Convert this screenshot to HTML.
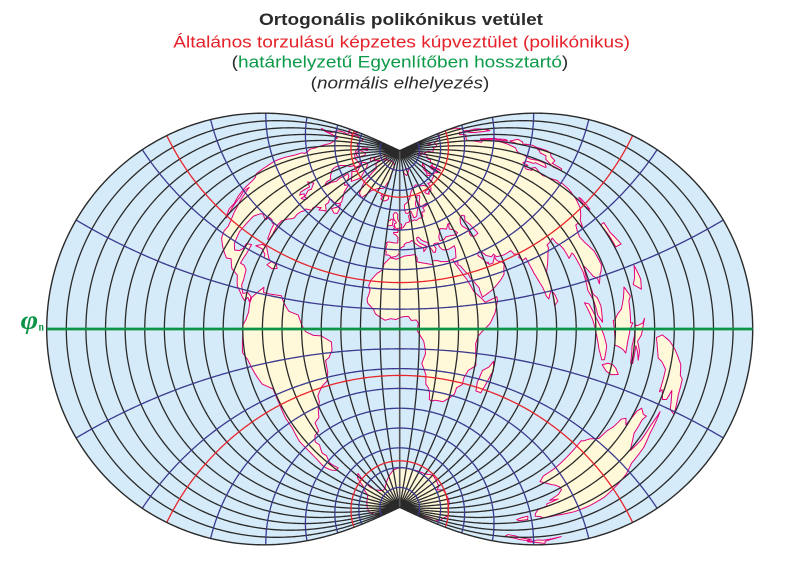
<!DOCTYPE html>
<html>
<head>
<meta charset="utf-8">
<style>
html,body{margin:0;padding:0;background:#fff;width:800px;height:566px;overflow:hidden}
svg{display:block}
</style>
</head>
<body>
<svg id="s" width="800" height="566" viewBox="0 0 800 566" xmlns="http://www.w3.org/2000/svg">
<rect x="0" y="0" width="800" height="566" fill="#ffffff"/>
<g font-family="'Liberation Sans', Arial, sans-serif" font-size="17">
<text x="259" y="25" font-weight="bold" fill="#2b2b2b" textLength="284" lengthAdjust="spacingAndGlyphs">Ortogonális polikónikus vetület</text>
<text x="173.3" y="47.7" fill="#e62129" textLength="456.7" lengthAdjust="spacingAndGlyphs">Általános torzulású képzetes kúpveztület (polikónikus)</text>
<text x="231.7" y="67.3" fill="#2b2b2b" textLength="336.6" lengthAdjust="spacingAndGlyphs">(<tspan fill="#0a9a48">határhelyzetű Egyenlítőben hossztartó</tspan>)</text>
<text x="310.7" y="88.5" fill="#2b2b2b" textLength="178.6" lengthAdjust="spacingAndGlyphs">(<tspan font-style="italic">normális elhelyezés</tspan>)</text>
</g>
<g id="map"></g>
<text x="20.7" y="328.5" font-family="'Liberation Serif', 'DejaVu Serif', serif" font-style="italic" font-weight="bold" font-size="26" fill="#0b9446" textLength="17.5" lengthAdjust="spacingAndGlyphs">φ</text>
<text x="38.5" y="330.5" font-family="'Liberation Serif', serif" font-weight="bold" font-size="12" fill="#0b9446" textLength="5.5" lengthAdjust="spacingAndGlyphs">n</text>
</svg>
<script>
(function(){
var R=113.5, CX=399.7, CY=329, SX=0.99, D=Math.PI/180;
function P(lon,lat){
  var l=lon*D, f=lat*D, p=Math.abs(f), x, y;
  if(p<1e-9){x=R*l;y=0;}
  else{
    var t=2*Math.atan(l/2*Math.sin(p));
    var r=R/Math.tan(p);
    x=r*Math.sin(t);
    y=R*p+r*(1-Math.cos(t));
    if(f<0)y=-y;
  }
  return [CX+x*SX, CY-y];
}
function densify(pts,closed,step){
  var out=[],n=pts.length,m=closed?n:n-1;
  for(var i=0;i<m;i++){
    var a=pts[i],b=pts[(i+1)%n];
    var k=Math.max(1,Math.ceil(Math.max(Math.abs(b[0]-a[0]),Math.abs(b[1]-a[1]))/step));
    for(var j=0;j<k;j++)out.push([a[0]+(b[0]-a[0])*j/k,a[1]+(b[1]-a[1])*j/k]);
  }
  if(!closed)out.push(pts[n-1]);
  return out;
}
function pathD(pts,closed,step){
  var d=densify(pts,closed,step||1.5),s='';
  for(var i=0;i<d.length;i++){var q=P(d[i][0],d[i][1]);s+=(i?'L':'M')+q[0].toFixed(2)+','+q[1].toFixed(2);}
  if(closed)s+='Z';
  return s;
}
var NS='http://www.w3.org/2000/svg', g=document.getElementById('map');
function add(d,attrs){
  var e=document.createElementNS(NS,'path');
  e.setAttribute('d',d);
  for(var k in attrs)e.setAttribute(k,attrs[k]);
  g.appendChild(e);
}
var outline=[[180,-90],[180,90],[-180,90],[-180,-90]];
var outD=pathD(outline,true,0.5);
add(outD,{fill:'#d5ebf9',stroke:'none'});

var lands=[
[[-115,68.5],[-108,68],[-98,67.8],[-95,68.5],[-90,68.5],[-85,69.5],[-82,68.5],[-81.5,67],[-86,66.5],[-87,64.5],[-90.5,63.5],[-94,61],[-94.5,58.8],[-92.5,57],[-88,56],[-85,55.2],[-82.3,55],[-82,52.8],[-79.5,51.5],[-78.8,54.5],[-76.8,56.5],[-78,58.5],[-77.5,60.5],[-78,62.5],[-74,62.3],[-70.5,61],[-69.5,59],[-67,58.5],[-64.5,60.3],[-61.5,56.5],[-59,55],[-56,52.5],[-57,51.3],[-60,50.2],[-64.5,50.2],[-66.5,50],[-64.5,48.5],[-65,47],[-62,45.8],[-61,45.3],[-63.5,44.6],[-66,43.7],[-66,45],[-67,44.5],[-70,43.7],[-70.7,42.5],[-70,41.7],[-71.5,41.3],[-74,40.5],[-74,39.5],[-75.2,38.7],[-76,37],[-75.7,35.5],[-76.8,34.6],[-78.5,33.8],[-81,32],[-81.3,30],[-80.2,27],[-80.4,25.2],[-81.2,25.2],[-82,26.8],[-82.8,28],[-83.5,29.8],[-85,29.7],[-86.5,30.4],[-89,30.3],[-89.5,29.2],[-91,29.3],[-93.5,29.8],[-95,29.3],[-97.2,27.6],[-97.5,25],[-97.8,22.5],[-96.5,19.5],[-94.5,18.2],[-92,18.6],[-90.7,19.5],[-90.4,21],[-87.5,21.5],[-87.5,19],[-88.3,16],[-86,15.9],[-84,15],[-83.5,12.5],[-83.7,11],[-82,9],[-79.5,9.5],[-77.5,8.6],[-77.8,7.2],[-79,8.3],[-80.4,7.3],[-82,8.2],[-84,9.5],[-85.8,10.5],[-87.5,13],[-89.5,13.5],[-91.5,14],[-94,16],[-96.5,15.7],[-99,16.6],[-101.5,17.6],[-104.5,19],[-105.6,20.5],[-105.3,21.8],[-106,23],[-108,25],[-109.3,26.5],[-111,28],[-112.5,29.7],[-114.5,31.5],[-114.7,30],[-113,28.5],[-111.5,26],[-110,24],[-109.5,23],[-110.3,23.5],[-112,24.8],[-112.3,26.5],[-114,28],[-115.8,30.2],[-116.8,32],[-117.3,33],[-118.5,34],[-120.6,34.6],[-121.9,36.6],[-122.5,37.8],[-123.8,39.6],[-124.3,40.5],[-124.5,43],[-124,46],[-124.7,48.4],[-123.2,49.2],[-125,50.3],[-127.5,51],[-128.5,53],[-130.5,54.5],[-132,56],[-134.5,58.2],[-137,59],[-139.8,59.8],[-143,60],[-146.5,60.8],[-148.5,60],[-150.5,61.2],[-151.5,59.8],[-154,58.3],[-156.5,57],[-158.5,56],[-161.5,55.2],[-163,54.8],[-160,56.2],[-158,57.5],[-157.5,58.7],[-160,58.7],[-162,59.8],[-164.7,60.5],[-165.3,62],[-164.5,63.2],[-161,64.3],[-163.5,64.6],[-166.5,64.8],[-168,65.6],[-165,66.4],[-163.8,66.2],[-161.8,66.3],[-163.5,67.1],[-166,68.3],[-163,69.5],[-160,70.5],[-156.5,71.3],[-152,70.8],[-148,70.3],[-143,70.1],[-139,69.6],[-135,69.2],[-131,69.7],[-128,70.2],[-124.5,69.5],[-120,69]],
[[-73,78],[-68,80.5],[-60,82],[-40,83.5],[-25,83],[-18,81],[-20,78],[-19,75],[-22,72],[-24,69.5],[-32,68],[-38,65.5],[-43,60],[-48,61],[-51,64],[-54,67],[-55,70],[-58,75.5],[-66,76]],
[[-80,73],[-72,71.5],[-68,70],[-62,66.5],[-66,62],[-72,63.5],[-78,64.5],[-74,67],[-82,69.5],[-88,70]],
[[-117,71],[-108,73],[-102,72.5],[-101,69.5],[-105,68.8],[-112,69],[-117,70]],
[[-125,71.5],[-120,71.5],[-117,74],[-124,74.3]],
[[-92,75],[-80,74.5],[-82,76.5],[-90,76.5]],
[[-88,77],[-78,76.5],[-74,78.5],[-68,80.5],[-62,82],[-75,83],[-90,81.5]],
[[-59,47.6],[-56,49.5],[-55.5,51.6],[-53,49],[-52.7,47.5],[-55,46.8]],
[[-85,21.8],[-82,23.1],[-79,23],[-75,20.5],[-74.2,20.1],[-77.5,19.9],[-78,21],[-81,22]],
[[-74.4,18.5],[-72.8,19.9],[-69.5,19.7],[-68.4,18.6],[-71,18]],
[[-77,8.5],[-72,12],[-71.5,10.5],[-68,10.5],[-62,10.7],[-60,8.5],[-57,6],[-52,5],[-50,1.5],[-48,-1],[-44,-2.5],[-40,-2.8],[-35,-5.5],[-35,-9],[-37,-12],[-39,-13],[-39,-18],[-40.5,-21.5],[-44,-23],[-48,-26],[-48.5,-28.5],[-51,-31],[-53,-34],[-57,-35],[-58,-38.5],[-62,-39],[-65,-41],[-64,-43],[-67,-46],[-66,-48],[-69,-51],[-68.5,-53],[-67.5,-55],[-71,-55],[-74,-53],[-75.5,-50],[-74,-46],[-73.5,-42],[-73.5,-37],[-71.5,-32],[-71.5,-28],[-70.5,-23],[-70.3,-18],[-75,-15.5],[-76.5,-13],[-79,-8],[-81,-6],[-80.5,-3.5],[-80,-1],[-80,1],[-78.5,2.5],[-77.5,4.5],[-77.5,7]],
[[-17,21],[-16,24],[-13,27.5],[-10,29.5],[-9.5,32.5],[-6,35.8],[-2,35.2],[3,36.8],[10,37.2],[11,35],[10.5,33.5],[15,32.3],[20,31],[20,32.8],[23,32.5],[25,31.6],[29,30.9],[32.3,31.3],[32.5,29.9],[33.5,28],[34.5,26],[35.7,23.5],[37.2,21],[38.5,18],[39.5,15.5],[41.5,13.5],[43.3,11.8],[44.5,10.4],[51,11.8],[51,10.4],[49,6],[46,2],[42,-1],[40,-3],[39,-6],[39.5,-10],[40.5,-15],[37,-17.5],[35.5,-21],[35.5,-24],[32.8,-26],[32.5,-29],[30,-31.5],[27,-33.8],[22,-34],[20,-34.8],[18.4,-34.2],[18,-31.5],[17,-29],[15,-27],[14.5,-22.5],[11.8,-17],[13.5,-12],[13,-9],[12.3,-6],[9,-1],[9.5,3],[8.5,4.5],[6,4.3],[4.5,6.3],[1.5,6.2],[-2,4.8],[-4.5,5.2],[-7.5,4.4],[-9.5,5.5],[-12.5,7.5],[-13.5,9.5],[-15,11],[-16.7,12.5],[-17.2,14.7],[-16.5,16.5],[-16,19]],
[[44,-25],[47,-25],[49.5,-17],[50.3,-15.5],[49.3,-12],[47.5,-14.5],[44.5,-16.3],[43.3,-21.5]],
[[32.3,31.3],[34.5,31.5],[35,33],[35.9,35.3],[36,36.8],[34,36.5],[32,36.2],[30,36.3],[28,36.8],[27.3,37.5],[26.5,38.5],[26.3,39.5],[26.5,40.5],[24,40.8],[23,40.3],[24,38.2],[22.8,36.5],[21.6,36.9],[21,38.5],[19.5,40.2],[19.5,42],[16,43.5],[13.7,45.6],[12.3,45.3],[12.5,44],[14,42.5],[16,41.5],[18.5,40.2],[16.5,38.5],[15.7,38],[16,39.5],[15,40.2],[12.5,41.5],[10.5,43],[8.7,44.4],[7,43.6],[4.5,43.4],[3,42.5],[3.2,41.9],[0.8,41],[-0.5,39],[0,38.7],[-0.8,37.6],[-2.2,36.7],[-5.4,36],[-6.3,36.8],[-7.5,37.2],[-8.9,37],[-8.8,38.7],[-9.5,39.4],[-8.7,42.2],[-9.3,43.1],[-8,43.7],[-4,43.4],[-1.5,43.4],[-1.2,46],[-2.5,47.3],[-4.5,47.9],[-4.7,48.6],[-1.5,48.7],[-1.5,49.6],[0.2,49.5],[1.6,50.9],[3,51.3],[4.5,52.5],[5,53.3],[7,53.6],[8.7,53.9],[8.6,55.5],[8.2,56.8],[10,57.6],[10.5,56.2],[10,55],[11,54],[13,54.4],[14.3,53.9],[18,54.8],[19.8,54.4],[21.2,55.2],[21,56.8],[21.6,57.3],[23.5,57],[24.2,57.7],[24,58.4],[23.5,59.2],[28,59.5],[30,60],[28.5,60.5],[22.9,60],[21.4,60.6],[21.5,62],[25,64.8],[25.3,65.5],[22,65.8],[21.2,64.8],[19,63.6],[17.5,62.2],[17.2,60.7],[19,59.8],[18,59],[16.6,57.5],[15.9,56.1],[14.4,55.6],[12.8,55.5],[12.5,56.3],[11.8,57.7],[11.1,59],[9.8,59],[8,58.1],[6.2,58.3],[5.3,59.3],[5,61],[5.2,62.5],[7.5,63.3],[10,64],[12.5,65.5],[14,67],[16,68.5],[19,69.8],[23.5,70.6],[26,71],[30,70],[33,69.3],[36,69],[40,67.7],[41,66.5],[38,66],[34.5,66],[33,65.5],[35,64.3],[37,63.8],[37.5,64.8],[40.5,64.5],[44,66],[44,68.5],[46,68],[50,68],[54,68.5],[57,68.6],[60,69],[61,69.8],[65,69.3],[68.5,68.2],[68,71.5],[69.5,73],[72.5,72.8],[72.5,71],[74,67.5],[75,68.5],[73.5,71.5],[75.5,72.5],[80,72],[80.5,73.6],[87,74],[86.5,75.2],[90,75.8],[95,76],[100,76.5],[104.2,77.7],[107,76.9],[111,76.6],[113,75.8],[112.5,74.4],[110,74],[113.5,73.4],[118,73.5],[124,73],[127,73.5],[129,72.2],[132,71.8],[136,71.6],[139.5,72.3],[141,72.6],[146,72.3],[150,71.5],[153,70.9],[157,71],[160,70.7],[163,69.7],[168,69.8],[170.5,70.1],[175,69.8],[180,69],[180,65],[178.5,64.6],[177,62.5],[172,61],[170,60],[166,60],[163,59.8],[162,57.8],[163,56],[162,54.8],[160,53],[158,52],[156.5,51.2],[156,53],[155.5,56],[156.8,57.8],[158.5,58],[162,61.5],[160,61.5],[156,61.6],[153,59.2],[148,59.3],[144,59.4],[141,59],[137,54],[140.5,53.5],[141,52],[140,48.5],[138,46],[135,43.5],[132,43],[130.7,42.5],[129.7,41],[128,39],[129.4,37],[129.3,35.3],[127,34.7],[126.3,34.8],[126.5,37.5],[125.3,37.8],[124.8,39.7],[122,40.5],[121.5,39],[119.5,39.8],[117.7,39],[118.9,37.5],[120.7,37.8],[122.5,37],[120,35.5],[119.2,34.5],[120.8,32],[121.8,31],[121.2,30.3],[122,29.8],[121.5,28],[119.5,25.5],[117,23.5],[114,22.3],[112,21.7],[110.5,20.3],[109.7,21.5],[108,21.5],[106.6,20.3],[105.7,19],[106.5,17.5],[108.8,15],[109.3,12],[108,11],[106.8,10.4],[105,8.7],[104.8,9.8],[103,10.5],[101,12.5],[100,13.3],[99.2,10.5],[100.3,8],[100.5,7],[102.2,6.2],[103.4,4.5],[103.5,1.3],[101.3,2.7],[100.3,5.5],[98.3,8],[98.5,10],[98.7,12],[97.7,16.4],[97.2,16.8],[94.5,16],[94.2,18.5],[93.5,19.7],[92.3,20.7],[91.8,22.3],[90.5,22],[89,21.7],[87,21.5],[86.9,20.7],[85,19.4],[82.3,17],[80.2,15.2],[80,11.5],[79.8,10.3],[78.2,8.9],[77.5,8],[76.5,8.9],[75.7,11.4],[74.8,13],[73.5,16],[72.8,19.3],[72.6,21.2],[70.5,20.9],[69,22.3],[70,22.9],[68.5,23.6],[67.4,23.9],[66.6,25.4],[64,25.3],[61.6,25.2],[58.5,25.6],[57.3,25.8],[56.4,27.1],[54.7,26.5],[52,27.8],[50.3,30],[48.8,30.3],[48,30],[47.5,29],[48.5,28],[49.7,26.7],[50.2,25.9],[50.8,24.8],[51.6,25.2],[51.6,24.2],[54,24.1],[55.6,25.5],[56.3,26.2],[56.4,24.9],[57.4,23.9],[58.8,23.5],[59.8,22.3],[58.5,20.5],[57.8,19],[55.3,17.5],[52.2,16],[49.6,14.7],[45.6,13.3],[43.5,12.6],[42.7,15.7],[42.8,16.4],[41.2,18.7],[40.3,20],[39.1,21.5],[38.9,22.8],[37.5,24.3],[35.6,27.4],[34.6,28.1],[34.4,28.3],[34.9,29.5],[32.5,29.9]],
[[-180,69],[-175,67.5],[-171,66.8],[-169.8,66],[-172,64.5],[-175,65],[-178,64.7],[-180,65]],
[[-5.7,50],[-3,50.5],[1.4,51.2],[1.7,52.7],[0,53.5],[-1.5,55],[-2,56],[-1.8,57.6],[-3,58.6],[-5,58.6],[-6.2,57.5],[-5.6,56],[-4.8,54.8],[-3,54],[-3,53.4],[-4.6,53],[-4.2,52],[-5.2,51.7],[-3.5,51.4]],
[[-10,51.6],[-6,52.2],[-6,53.9],[-5.8,55.2],[-7.3,55.3],[-8.5,54.5],[-10,54.2],[-9.8,53.5],[-10.3,52.1]],
[[-22.5,64],[-21.5,65.5],[-24,65.6],[-22.5,66.3],[-18.5,66.2],[-15,66.5],[-13.6,65.2],[-15,64.3],[-18.7,63.4]],
[[11,78.5],[16,77],[21,78],[27,80],[20,80.5],[11,79.6]],
[[52,71.5],[55,70.6],[58,70.8],[56,72.5],[57,74.5],[61,76],[68,76.8],[65,75.5],[58,73.5],[55.5,72.5]],
[[95,79],[100,79.2],[104,78.5],[100,81],[95,80.5]],
[[137,75],[142,74],[148,75.3],[140,76]],
[[142,46],[143.5,46.5],[143.2,49],[144,49.5],[143,53],[143,54.3],[142.3,54.3],[141.6,52],[142,49.5],[141.8,47.5]],
[[130,31.3],[131.5,31.5],[132,33.8],[135,33.5],[137,34.6],[139.8,35],[140.8,35.8],[141,38.3],[142,39.5],[141.4,41.4],[140,40.8],[139.8,40],[140,38.3],[138.5,37.5],[136.8,37.2],[136,35.7],[133,35.5],[131,34.3],[129.6,33.3]],
[[140,41.5],[141.2,41.8],[143.3,42],[145.5,43.3],[142,45.4],[141.6,45],[140.3,43.2]],
[[79.8,6],[81.8,7],[81,8.8],[80,9.8]],
[[120.1,23],[121,22],[121.9,24.8],[121.3,25.2]],
[[120,18.5],[122.3,18.5],[122,16.5],[124,13.8],[120.6,13.8],[120.5,16]],
[[122,7],[125.5,6],[126.5,7.5],[125.5,9.8],[123.7,8]],
[[95.3,5.6],[97.5,5.2],[100.4,2.2],[104,-1],[106,-3.2],[105.8,-5.8],[104.5,-5.9],[102.3,-4],[100.3,-1],[98.6,1.8]],
[[105.2,-6.8],[108,-6.3],[110.7,-6.4],[112.6,-6.9],[114.5,-7.8],[111,-8.2],[108,-7.8]],
[[109,1.5],[110,1.7],[111.4,2.6],[113.6,3.4],[115.5,5.2],[117,7],[119.2,5.3],[118,4.6],[117.8,1],[118.9,1],[117.5,0],[116.5,-2],[116.1,-4],[114.6,-3.5],[113,-3.2],[111.7,-3],[110.2,-2.9],[109.4,0]],
[[119.5,-5.5],[120.5,-5.5],[120.8,-2.6],[122,-3.5],[123,-4.8],[123,-3.4],[121.5,-1.9],[123.3,-0.9],[124.5,1],[125,1.6],[124,0.9],[121,0.5],[120,0.7],[119.8,-1],[118.9,-2.7]],
[[131,-1.2],[134,-0.8],[138,-1.6],[141,-2.6],[145,-4.3],[146,-5.6],[147.5,-6],[148,-8],[150,-10.3],[147,-10],[144,-7.7],[143,-9],[141,-9.2],[139,-8],[138,-8.4],[137.8,-5.3],[135.2,-4.4],[133,-4],[132,-2.8]],
[[113.6,-22],[114.2,-26],[115,-30],[115,-33.6],[117.5,-35],[121,-33.9],[124,-33],[126,-32.3],[129,-31.6],[131.5,-31.5],[134,-32.5],[135.7,-34.8],[137.5,-33],[137.8,-35.7],[139.5,-35.8],[140.5,-38],[143.5,-38.8],[146.3,-39],[148,-37.8],[150,-37.4],[150.8,-34.5],[153,-31],[153.5,-28],[153,-25.3],[150.8,-22.5],[149,-20.5],[146.3,-18.9],[145.4,-16],[143.6,-14],[142.5,-10.8],[141.6,-12.9],[141.6,-15.5],[140.5,-17.6],[139,-17],[136,-15.3],[135.8,-13],[136.9,-12.2],[135,-12.2],[132.6,-11.5],[131,-12.2],[129.4,-14.9],[127.5,-14],[125.5,-14.5],[124,-16.3],[122.2,-17.5],[121,-19.5],[117,-20.6],[114.6,-21.8]],
[[144.6,-40.7],[148.3,-40.9],[148,-43.2],[146.5,-43.6],[145,-42.2]],
[[172.7,-34.5],[174.5,-36.5],[175.9,-37.6],[178.5,-37.7],[177,-39.3],[176,-41.3],[174.7,-41.3],[175.2,-40],[173.8,-39.2],[174.6,-38]],
[[172.7,-40.5],[174.3,-41.5],[173.2,-43],[171.2,-44.5],[170.6,-45.9],[169,-46.7],[166.5,-46],[168.3,-44],[170.5,-43],[172,-41.5]],
[[-180,-78.3],[-160,-78.5],[-150,-77],[-140,-75],[-120,-74],[-100,-73.5],[-80,-73],[-75,-71],[-68,-69],[-62,-64.5],[-57,-63.5],[-60,-68],[-62,-72],[-60,-75],[-50,-78],[-40,-78],[-30,-76],[-20,-73.5],[-10,-71],[0,-70],[10,-70],[20,-70],[30,-69.5],[40,-69],[50,-67],[60,-67.5],[70,-68],[75,-69.5],[80,-67],[90,-66.5],[100,-66],[110,-66],[120,-67],[130,-66.5],[140,-66.5],[150,-68.5],[160,-69.5],[165,-71],[170,-71.5],[168,-74],[166,-77],[170,-78],[180,-78.3],[180,-90],[-180,-90]]
];
var landStr='';
for(var i=0;i<lands.length;i++)landStr+=pathD(lands[i],true,1);
add(landStr,{fill:'#fff9da',stroke:'none'});
var waters=[
[[28,41.2],[28,43],[29.6,45],[31,46.6],[33.5,46],[35.5,45.2],[38,47],[39.5,47],[38,46],[37.5,44.7],[40,43.5],[41.7,41.5],[40,41],[36,41.7],[33,42],[31,41.2]],
[[47,44.5],[49,46.5],[51.5,47],[53,46],[51,44.5],[52.5,42],[53,40],[53.8,38],[53.9,37],[51,36.7],[49,37.5],[48.9,38.5],[49.5,40.3],[48,42],[47,43]],
[[-85,45.5],[-84,46.5],[-88,48.5],[-92,46.8],[-87,46.5],[-87.5,43],[-86,42],[-84.5,43.5],[-82,43],[-79.5,43.5],[-80,42.5],[-83,41.7],[-82.5,43.5]]
];
var wStr='';
for(var i=0;i<waters.length;i++)wStr+=pathD(waters[i],true,1);
add(wStr,{fill:'#d5ebf9',stroke:'none'});
add(landStr+wStr,{fill:'none',stroke:'#e4007c','stroke-width':'1','stroke-linejoin':'round'});

var mer='';
for(var lon=-170;lon<=170;lon+=10){
  if(lon===0)continue;
  mer+=pathD([[lon,-90],[lon,90]],false,0.5);
}
add(mer,{fill:'none',stroke:'#2a2a2a','stroke-width':'1.3'});
add(pathD([[0,-90],[0,90]],false,1),{fill:'none',stroke:'#555555','stroke-width':'1.6'});
var par='';
for(var lat=10;lat<=80;lat+=10){
  par+=pathD([[-180,lat],[180,lat]],false,1);
  par+=pathD([[-180,-lat],[180,-lat]],false,1);
}
add(par,{fill:'none',stroke:'#3b3a8e','stroke-width':'1.3'});
var red='';
[23.44,66.56].forEach(function(lat){
  red+=pathD([[-180,lat],[180,lat]],false,1);
  red+=pathD([[-180,-lat],[180,-lat]],false,1);
});
add(red,{fill:'none',stroke:'#e8262c','stroke-width':'1.3'});
add(outD,{fill:'none',stroke:'#2a2a2a','stroke-width':'1.4'});
var a=P(-180,0),b=P(180,0);
add('M'+a[0].toFixed(2)+','+CY+'L'+b[0].toFixed(2)+','+CY,{fill:'none',stroke:'#0b9446','stroke-width':'2.8'});
})();
</script>
</body>
</html>
